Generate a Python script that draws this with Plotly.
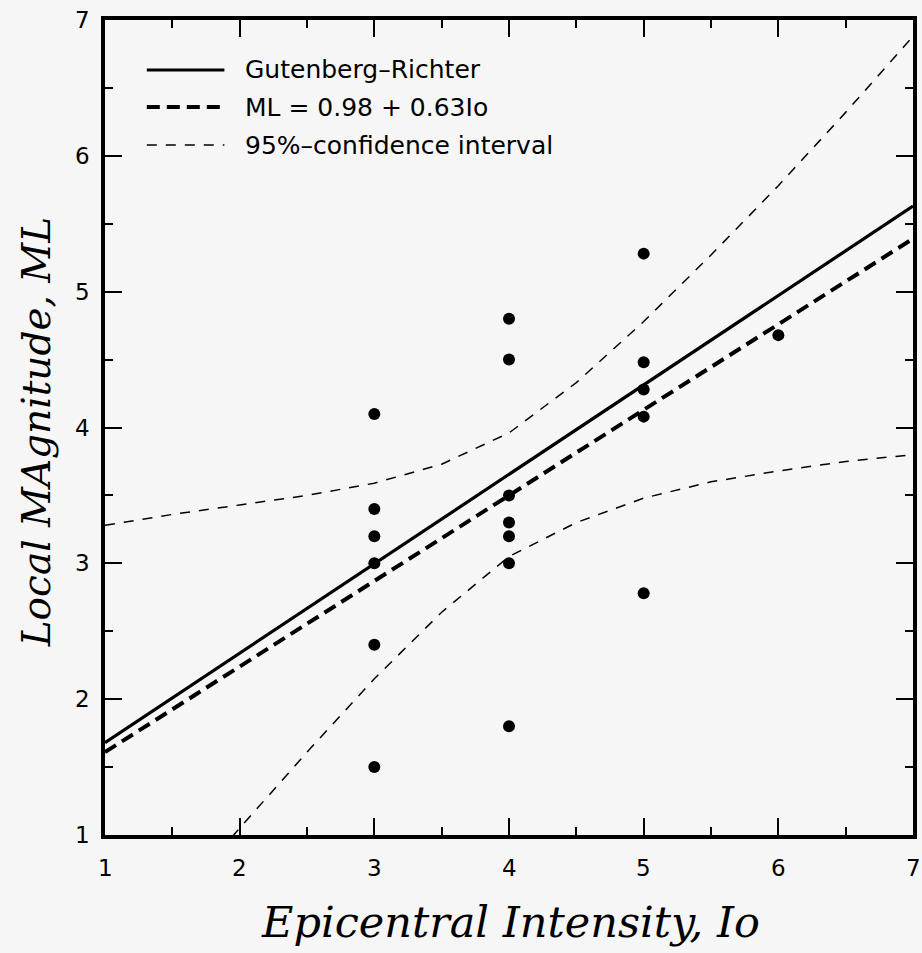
import plotly.graph_objects as go

# --- data ---
obs_io = [3, 3, 3, 3, 3, 3,
          4, 4, 4, 4, 4, 4, 4,
          5, 5, 5, 5, 5,
          6]
obs_ml = [4.10, 3.40, 3.20, 3.00, 2.40, 1.50,
          4.80, 4.50, 3.50, 3.30, 3.20, 3.00, 1.80,
          5.28, 4.48, 4.28, 4.08, 2.78,
          4.68]

gr_io = [1, 7]
gr_ml = [1.68, 5.63]

reg_io = [1, 7]
reg_ml = [1.61, 5.39]

ci_io = [1.0, 1.5, 2.0, 2.5, 3.0, 3.5, 4.0, 4.5, 5.0, 5.5, 6.0, 6.5, 7.0]
ci_upper = [3.28, 3.36, 3.43, 3.50, 3.59, 3.73, 3.96, 4.33, 4.78, 5.27, 5.78, 6.32, 6.88]
ci_lower = [-0.06, 0.49, 1.05, 1.61, 2.15, 2.64, 3.05, 3.30, 3.48, 3.60, 3.68, 3.75, 3.80]

tick_vals = [1, 2, 3, 4, 5, 6, 7]
tick_text = ["1", "2", "3", "4", "5", "6", "7"]

legend_labels = ["Gutenberg\u2013Richter", "ML = 0.98 + 0.63Io", "95%\u2013confidence interval"]

x_title = "Epicentral Intensity, Io"
y_title = "Local MAgnitude, ML"

BG = "#f6f6f6"
SANS = "DejaVu Sans"
SERIF = "DejaVu Serif"

fig = go.Figure()

# confidence interval
fig.add_trace(go.Scatter(x=ci_io, y=ci_upper, mode="lines",
                         line=dict(color="black", width=1.5, dash="10px,9px"),
                         showlegend=False, hoverinfo="skip"))
fig.add_trace(go.Scatter(x=ci_io, y=ci_lower, mode="lines",
                         line=dict(color="black", width=1.5, dash="10px,9px"),
                         showlegend=False, hoverinfo="skip"))
# regression
fig.add_trace(go.Scatter(x=reg_io, y=reg_ml, mode="lines",
                         line=dict(color="black", width=4, dash="13px,7px"),
                         showlegend=False))
# Gutenberg-Richter
fig.add_trace(go.Scatter(x=gr_io, y=gr_ml, mode="lines",
                         line=dict(color="black", width=3.2),
                         showlegend=False))
# observations
fig.add_trace(go.Scatter(x=obs_io, y=obs_ml, mode="markers",
                         marker=dict(color="black", size=12, symbol="circle"),
                         showlegend=False, cliponaxis=False))

# manual legend (layout, paper coords)
L, R, T, B = 105, 5, 20, 118
W, H = 922 - L - R, 953 - T - B


def px(xp):
    return (xp - L) / W


def py(yp):
    return (953 - B - yp) / H


leg_rows = [70, 107, 145]
leg_styles = [dict(color="black", width=3.2),
              dict(color="black", width=4, dash="13px,7px"),
              dict(color="black", width=1.5, dash="10px,9px")]
shapes = []
annotations = []
for row, style, label in zip(leg_rows, leg_styles, legend_labels):
    shapes.append(dict(type="line", xref="paper", yref="paper",
                       x0=px(147), x1=px(225), y0=py(row), y1=py(row),
                       line=style))
    annotations.append(dict(xref="paper", yref="paper", x=px(244), y=py(row),
                            text=label, showarrow=False, xanchor="left", yanchor="middle",
                            font=dict(family=SANS, size=25, color="black")))

# tick labels as annotations (so their size/offset match the reference)
TICKFONT = dict(family=SANS, size=23, color="black")
for v, t in zip(tick_vals, tick_text):
    annotations.append(dict(xref="x", yref="paper", x=v, y=py(868), text=t,
                            showarrow=False, xanchor="center", yanchor="middle",
                            font=TICKFONT))
    annotations.append(dict(xref="paper", yref="y", x=px(92), y=v, text=t,
                            showarrow=False, xanchor="right", yanchor="middle",
                            font=TICKFONT))

# axis titles
annotations.append(dict(xref="paper", yref="paper", x=px(513), y=py(922),
                        text=x_title, showarrow=False, xanchor="center", yanchor="middle",
                        font=dict(family=SERIF, size=43, color="black", style="italic")))
annotations.append(dict(xref="paper", yref="paper", x=px(36), y=py(432),
                        text=y_title, showarrow=False, xanchor="center", yanchor="middle",
                        textangle=-90,
                        font=dict(family=SERIF, size=39, color="black", style="italic")))

axis_common = dict(range=[1, 7], tickmode="array", tickvals=tick_vals,
                   ticks="inside", ticklen=17, tickwidth=2, tickcolor="black",
                   minor=dict(dtick=0.5, ticks="inside", ticklen=8, tickwidth=2, tickcolor="black"),
                   showline=True, linewidth=3.5, linecolor="black", mirror="ticks",
                   showgrid=False, zeroline=False, showticklabels=False)

fig.update_layout(
    width=922, height=953,
    margin=dict(l=L, r=R, t=T, b=B),
    paper_bgcolor=BG, plot_bgcolor=BG,
    shapes=shapes, annotations=annotations,
    showlegend=False,
    xaxis=dict(**axis_common),
    yaxis=dict(**axis_common),
)

fig.write_html("out.html")
